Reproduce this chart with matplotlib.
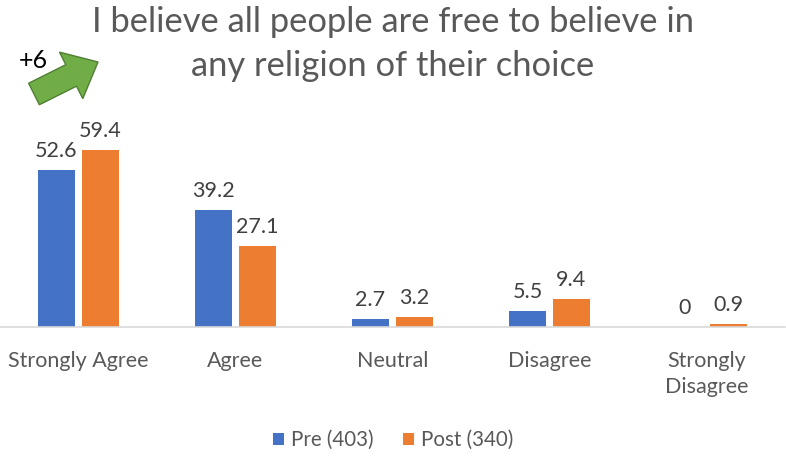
import numpy as np
import matplotlib.pyplot as plt
from matplotlib.patches import FancyArrow
from matplotlib.transforms import IdentityTransform

categories = ['Strongly Agree', 'Agree', 'Neutral', 'Disagree', 'Strongly\nDisagree']
pre = [52.6, 39.2, 2.7, 5.5, 0]
post = [59.4, 27.1, 3.2, 9.4, 0.9]
pre_label = 'Pre (403)'
post_label = 'Post (340)'
title = 'I believe all people are free to believe in\nany religion of their choice'

plt.rcParams['font.family'] = ['Lato', 'DejaVu Sans']

W, H = 786, 462
fig = plt.figure(figsize=(W / 100, H / 100), dpi=100)
# axes placed in pixels: x 0..785, baseline at y=327, top at y=118
ax = fig.add_axes([0 / W, (H - 327) / H, 785 / W, (327 - 118) / H])

x = np.arange(len(categories))
w = 0.23
off = 0.14
blue = '#4472C4'
orange = '#ED7D31'
b1 = ax.bar(x - off, pre, w, color=blue, label=pre_label)
b2 = ax.bar(x + off, post, w, color=orange, label=post_label)

for bars in (b1, b2):
    for bar in bars:
        h = bar.get_height()
        ax.text(bar.get_x() + bar.get_width() / 2, h + 3, f'{h:g}',
                ha='center', va='bottom', fontsize=15.5, color='#404040')

ax.set_xlim(-0.5, len(categories) - 0.5)
ax.set_ylim(0, 70)
ax.set_yticks([])
for s in ['top', 'right', 'left']:
    ax.spines[s].set_visible(False)
ax.spines['bottom'].set_color('#D9D9D9')
ax.spines['bottom'].set_linewidth(1.2)
ax.set_xticks(x)
ax.set_xticklabels(categories, fontsize=15.5, color='#595959', linespacing=1.42)
ax.tick_params(axis='x', length=0, pad=17)

fig.text(0.5, (H - 44) / H, title, ha='center', va='center', fontsize=24.8,
         color='#595959', linespacing=1.5)

leg = fig.legend(handles=[b1, b2], loc='center', bbox_to_anchor=(0.5, (H - 440) / H),
                 ncol=2, frameon=False, fontsize=14.8, handlelength=0.55, handleheight=0.55,
                 columnspacing=1.4, handletextpad=0.35)
for t in leg.get_texts():
    t.set_color('#595959')

# green arrow (display pixels)
arrow = FancyArrow(34, H - 94, 64, 32, width=24, head_width=52, head_length=30,
                   length_includes_head=True, transform=IdentityTransform(),
                   facecolor='#70AD47', edgecolor='#507E32', linewidth=1)
fig.add_artist(arrow)
fig.text(33 / W, (H - 61) / H, '+6', ha='center', va='center', fontsize=18, color='black')

fig.savefig('out.png', dpi=100)
